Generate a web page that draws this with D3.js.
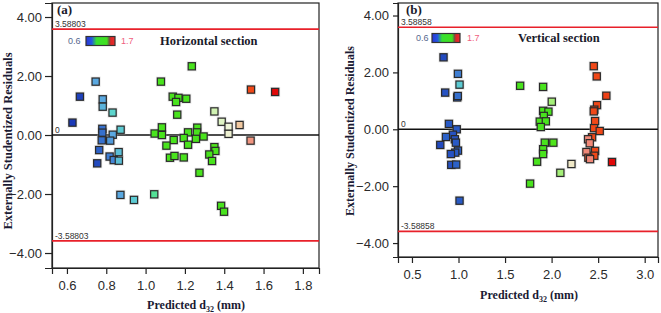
<!DOCTYPE html>
<html>
<head>
<meta charset="utf-8">
<script src="https://cdn.jsdelivr.net/npm/d3@7"></script>
<style>
  body { margin: 0; background: #fff; }
  svg { display: block; }
</style>
</head>
<body>
<div id="chart"></div>
<script>
// Residuals vs predicted d32, two sections

// panel (a) horizontal section
const predA = [0.666, 0.628, 0.746, 0.782, 0.782, 0.832, 0.873, 0.780, 0.780, 0.833, 0.777, 0.820, 0.764, 0.817, 0.863, 0.838, 0.864, 0.754, 0.872, 0.941, 1.044,
  1.235, 1.078, 1.138, 1.167, 1.155, 1.207, 1.161, 1.083, 1.046, 1.083, 1.216, 1.263, 1.261, 1.256, 1.295, 1.143, 1.194, 1.106, 1.216, 1.124,
  1.147, 1.194, 1.274, 1.350, 1.355, 1.324, 1.338, 1.384, 1.399,
  1.350, 1.387, 1.422, 1.422, 1.478, 1.534, 1.536, 1.659];
const residA = [1.30, 0.42, 1.81, 1.21, 0.96, 0.76, 0.18, 0.21, 0.08, 0.01, -0.18, -0.19, -0.51, -0.73, -0.58, -0.85, -0.87, -0.96, -2.03, -2.20, -2.01,
  2.33, 1.81, 1.30, 1.26, 1.12, 1.23, 0.69, 0.26, 0.05, 0.00, 0.09, 0.25, 0.09, -0.13, -0.05, -0.17, -0.10, -0.36, -0.33, -0.77,
  -0.71, -0.76, -1.28, -0.41, -0.54, -0.66, -0.88, -2.40, -2.60,
  0.80, 0.45, 0.28, 0.04, 0.34, -0.19, 1.54, 1.46];
// actual d32 used for the point colour (0.6 - 1.7)
const shadeA = [0.62, 0.60, 0.80, 0.80, 0.82, 0.88, 0.86, 0.72, 0.72, 0.80, 0.72, 0.78, 0.70, 0.74, 0.84, 0.75, 0.84, 0.64, 0.80, 0.86, 0.93,
  1.10, 1.10, 1.10, 1.10, 1.10, 1.10, 1.10, 1.10, 1.10, 1.10, 1.10, 1.10, 1.10, 1.10, 1.10, 1.10, 1.10, 1.10, 1.10, 1.10,
  1.10, 1.10, 1.10, 1.15, 1.10, 1.10, 1.10, 1.10, 1.10,
  1.33, 1.34, 1.35, 1.36, 1.45, 1.53, 1.62, 1.70];

// panel (b) vertical section
const predB = [0.839, 0.994, 1.011, 0.857, 0.986, 0.992, 0.897, 0.981, 0.940, 0.865, 0.961, 0.972, 0.804, 0.994, 0.965, 0.918, 0.922, 0.975, 1.011,
  1.662, 1.909, 2.002, 1.909, 1.966, 1.916, 1.873, 1.938, 1.884, 1.927, 2.019, 1.909, 1.909, 1.844, 2.094, 2.213, 1.769,
  2.453, 2.485, 2.588, 2.488, 2.459, 2.453, 2.467, 2.456, 2.517, 2.435, 2.392, 2.410, 2.467, 2.374, 2.459, 2.395, 2.413, 2.649];
const residB = [2.53, 1.95, 1.57, 1.29, 1.12, 1.17, 0.19, 0.00, -0.19, -0.27, -0.35, -0.47, -0.55, -0.75, -0.82, -0.87, -1.25, -1.24, -2.51,
  1.53, 1.49, 0.97, 0.65, 0.62, 0.47, 0.27, 0.28, 0.08, -0.47, -0.47, -0.70, -0.87, -1.14, -1.53, -1.22, -1.91,
  2.22, 1.86, 1.18, 0.85, 0.69, 0.63, 0.29, 0.04, -0.06, -0.28, -0.35, -0.49, -0.76, -0.80, -0.93, -1.00, -1.05, -1.15];
const shadeB = [0.64, 0.74, 0.86, 0.66, 0.70, 0.72, 0.68, 0.68, 0.66, 0.70, 0.66, 0.68, 0.64, 0.70, 0.68, 0.66, 0.66, 0.70, 0.68,
  1.10, 1.10, 1.30, 1.10, 1.10, 1.10, 1.10, 1.10, 1.10, 1.10, 1.15, 1.10, 1.10, 1.10, 1.30, 1.38, 1.10,
  1.62, 1.62, 1.63, 1.62, 1.62, 1.62, 1.62, 1.62, 1.62, 1.62, 1.55, 1.55, 1.62, 1.55, 1.62, 1.60, 1.55, 1.70];

const xTicksA = [0.6, 0.8, 1.0, 1.2, 1.4, 1.6, 1.8];
const xTicksB = [0.5, 1.0, 1.5, 2.0, 2.5, 3.0];
const yTicks = [-4, -2, 0, 2, 4];
const limitA = 3.58803;
const limitB = 3.58858;
const legendRange = ['0.6', '1.7'];

// colour ramp (blue -> green -> red) used for the points
const shadeStops = [0.60, 0.70, 0.80, 0.90, 1.00, 1.25, 1.35, 1.45, 1.55, 1.62, 1.70];
const shadeColors = ['#1b3ab8', '#2d62c8', '#5aa8e0', '#5ee0c8', '#3ee020', '#5ae818', '#eef5d8', '#f0c8a0', '#f08878', '#f04818', '#e00808'];
const shade = d3.scaleLinear().domain(shadeStops).range(shadeColors);

// the small legend bar is drawn coarser (blue, green, red)
const barStops = [0, 0.2, 0.36, 0.72, 0.8, 0.86, 1];
const barColors = ['#2a34d8', '#2458e0', '#38e030', '#40e020', '#6a5a40', '#e02424', '#e43030'];

const W = 661, H = 313;
const svg = d3.select('#chart').append('svg')
  .attr('width', W)
  .attr('height', H)
  .style('font-family', '"Liberation Sans", Arial, sans-serif');

const grad = svg.append('defs').append('linearGradient').attr('id', 'ramp');
barStops.forEach((s, i) => {
  grad.append('stop').attr('offset', s).attr('stop-color', barColors[i]);
});

const serif = '"Liberation Serif", "Times New Roman", serif';

function drawPanel(p) {
  const x = d3.scaleLinear().domain(p.xDomain).range([p.left, p.right]);
  const y = d3.scaleLinear().domain(p.yDomain).range([p.bottom, p.top]);
  const g = svg.append('g');

  // frame
  g.append('rect')
    .attr('x', p.left).attr('y', p.top)
    .attr('width', p.right - p.left).attr('height', p.bottom - p.top)
    .attr('fill', 'none').attr('stroke', '#222').attr('stroke-width', 1.2);

  // axes
  const yAxis = g.append('g')
    .attr('transform', `translate(${p.left},0)`)
    .call(d3.axisLeft(y).tickValues(yTicks).tickSize(p.yTickSize).tickPadding(p.yTickPad).tickFormat(d3.format('.2f')));
  const xAxis = g.append('g')
    .attr('transform', `translate(0,${p.bottom})`)
    .call(d3.axisBottom(x).tickValues(p.xTicks).tickSize(6).tickPadding(7).tickFormat(d3.format('.1f')));
  [xAxis, yAxis].forEach(a => {
    a.select('.domain').attr('stroke', '#222').attr('stroke-width', 1.2);
    a.selectAll('.tick line').attr('stroke', '#222').attr('stroke-width', 1.2);
    a.selectAll('.tick text')
      .attr('fill', '#2a2a2a')
      .style('font-size', '13px')
      .style('font-family', '"Liberation Sans", Arial, sans-serif');
  });

  // reference lines
  [p.limit, -p.limit].forEach(v => {
    g.append('line')
      .attr('x1', p.left).attr('x2', p.right)
      .attr('y1', y(v)).attr('y2', y(v))
      .attr('stroke', '#e8202a').attr('stroke-width', 1.6);
  });
  g.append('line')
    .attr('x1', p.left).attr('x2', p.right)
    .attr('y1', y(0)).attr('y2', y(0))
    .attr('stroke', '#111').attr('stroke-width', 1.6);

  const small = [[p.limit, p.limit.toFixed(5)], [0, '0'], [-p.limit, (-p.limit).toFixed(5)]];
  g.selectAll('.lim').data(small).enter().append('text')
    .attr('x', p.left + 3)
    .attr('y', d => y(d[0]) - 2)
    .attr('fill', '#333')
    .style('font-size', '8.5px')
    .text(d => d[1]);

  // points
  const pts = p.pred.map((v, i) => ({ x: v, r: p.resid[i], c: p.shade[i] }));
  g.selectAll('.halo').data(pts).enter().append('rect')
    .attr('x', d => x(d.x) - 5).attr('y', d => y(d.r) - 5)
    .attr('width', 10).attr('height', 10)
    .attr('fill', '#aaa').attr('opacity', 0.3);
  g.selectAll('.pt').data(pts).enter().append('rect')
    .attr('x', d => x(d.x) - 3.6).attr('y', d => y(d.r) - 3.6)
    .attr('width', 7.2).attr('height', 7.2)
    .attr('fill', d => shade(d.c))
    .attr('stroke', '#2a2a2a').attr('stroke-width', 1.2);

  // panel letter
  g.append('text')
    .attr('x', p.left + p.letterDx).attr('y', 14)
    .style('font-family', serif).style('font-size', '13px').style('font-weight', 'bold')
    .attr('fill', '#1a1a2a')
    .text(p.letter);

  // legend
  const ly = p.legendY;
  g.append('text')
    .attr('x', p.left + p.leg[0]).attr('y', ly).attr('dy', '0.35em')
    .attr('fill', '#56688e').style('font-size', '9px')
    .text(legendRange[0]);
  g.append('rect')
    .attr('x', p.left + p.leg[1]).attr('y', ly - 4.5)
    .attr('width', p.leg[2]).attr('height', 9)
    .attr('fill', 'url(#ramp)').attr('stroke', '#333').attr('stroke-width', 1.2);
  g.append('text')
    .attr('x', p.left + p.leg[3]).attr('y', ly).attr('dy', '0.35em')
    .attr('fill', '#f06080').style('font-size', '9px')
    .text(legendRange[1]);
  g.append('text')
    .attr('x', p.left + p.leg[4]).attr('y', ly).attr('dy', '0.35em')
    .style('font-family', serif).style('font-size', '12.5px').style('font-weight', 'bold')
    .attr('fill', '#1a1a2a')
    .text(p.title);

  // axis titles
  const xt = g.append('text')
    .attr('x', p.xTitleX).attr('y', p.xTitleY)
    .attr('text-anchor', 'middle')
    .style('font-family', serif).style('font-size', '12px').style('font-weight', 'bold')
    .attr('fill', '#1a1a33');
  xt.append('tspan').text('Predicted d');
  xt.append('tspan').attr('dy', 3).style('font-size', '8px').text('32');
  xt.append('tspan').attr('dy', -3).text(' (mm)');

  g.append('text')
    .attr('transform', `translate(${p.yTitleX},${p.yTitleY}) rotate(-90)`)
    .attr('text-anchor', 'middle').attr('dy', '0.35em')
    .style('font-family', serif).style('font-size', p.yTitleSize).style('font-weight', 'bold')
    .attr('fill', '#1a1a33')
    .text('Externally Studentized Residuals');
}

drawPanel({
  left: 52, right: 319, top: 3, bottom: 268,
  xDomain: [0.524, 1.882], yDomain: [-4.508, 4.475],
  xTicks: xTicksA, yTickSize: 7, yTickPad: 3,
  limit: limitA, pred: predA, resid: residA, shade: shadeA,
  letter: '(a)', letterDx: 5, title: 'Horizontal section',
  legendY: 41, leg: [16, 34, 29, 69, 108],
  xTitleX: 196, xTitleY: 309, yTitleX: 8, yTitleY: 141, yTitleSize: '12.5px'
});

drawPanel({
  left: 398, right: 658, top: 3, bottom: 257,
  xDomain: [0.35, 3.143], yDomain: [-4.49, 4.44],
  xTicks: xTicksB, yTickSize: 5, yTickPad: 4,
  limit: limitB, pred: predB, resid: residB, shade: shadeB,
  letter: '(b)', letterDx: 8, title: 'Vertical section',
  legendY: 38, leg: [18, 34, 28, 69, 120],
  xTitleX: 529, xTitleY: 299, yTitleX: 350, yTitleY: 131, yTitleSize: '12px'
});
</script>
</body>
</html>
